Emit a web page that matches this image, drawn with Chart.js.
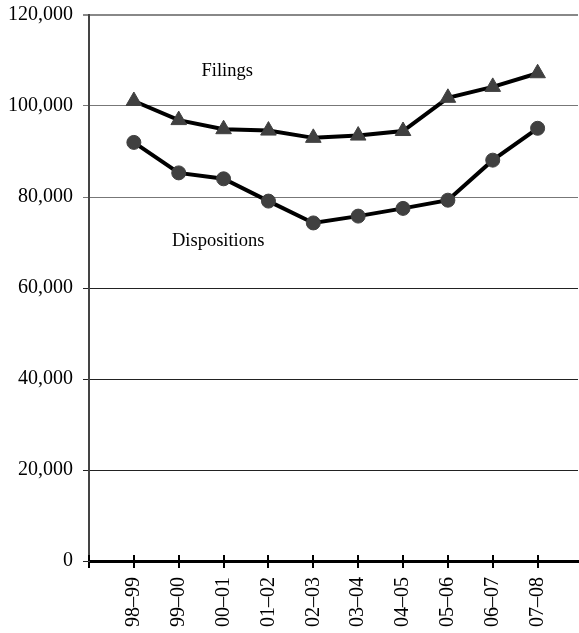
<!DOCTYPE html>
<html>
<head>
<meta charset="utf-8">
<script src="https://cdn.jsdelivr.net/npm/chart.js@4.4.1/dist/chart.umd.min.js"></script>
<style>
  html, body { margin: 0; padding: 0; background: #fff; }
  #wrap { width: 579px; height: 633px; position: relative; }
</style>
</head>
<body>
<div id="wrap"><canvas id="c" width="579" height="633"></canvas></div>
<script>
const categories = ['98\u201399','99\u201300','00\u201301','01\u201302','02\u201303','03\u201304','04\u201305','05\u201306','06\u201307','07\u201308'];
const filings = [101100, 96900, 94900, 94600, 93000, 93500, 94500, 101800, 104200, 107200];
const dispositions = [92000, 85300, 84000, 79100, 74300, 75800, 77500, 79300, 88100, 95100];
const yTicks = [0, 20000, 40000, 60000, 80000, 100000, 120000];
const seriesLabels = ['Filings', 'Dispositions'];

const FONT = "'Liberation Serif', 'Times New Roman', serif";

const toPts = arr => arr.map((v, i) => ({ x: i, y: v }));

const stretchRight = {
  id: 'stretchRight',
  afterLayout(chart) {
    const ca = chart.chartArea;
    const target = chart.width - 1;
    if (ca.right < target) {
      ca.right = target;
      ca.width = ca.right - ca.left;
      const xs = chart.scales.x;
      xs.right = target;
      xs.width = target - xs.left;
      xs.configure();
    }
  }
};

const innerTicks = {
  id: 'innerTicks',
  afterDatasetsDraw(chart) {
    const xs = chart.scales.x;
    const ctx = chart.ctx;
    const b = chart.chartArea.bottom;
    ctx.save();
    ctx.strokeStyle = '#000';
    ctx.lineWidth = 2;
    ctx.beginPath();
    for (let i = -1; i < categories.length; i++) {
      const px = Math.round(xs.getPixelForValue(i));
      ctx.moveTo(px, b - 6);
      ctx.lineTo(px, b);
    }
    ctx.stroke();
    ctx.restore();
  }
};

const seriesText = {
  id: 'seriesText',
  afterDatasetsDraw(chart) {
    const xs = chart.scales.x, ys = chart.scales.y;
    const ctx = chart.ctx;
    ctx.save();
    ctx.fillStyle = '#000';
    ctx.font = '18.5px ' + FONT;
    ctx.textAlign = 'center';
    ctx.textBaseline = 'middle';
    ctx.fillText(seriesLabels[0], xs.getPixelForValue(2.08), ys.getPixelForValue(107700));
    ctx.fillText(seriesLabels[1], xs.getPixelForValue(1.88), ys.getPixelForValue(70300));
    ctx.restore();
  }
};

new Chart(document.getElementById('c'), {
  type: 'line',
  data: {
    datasets: [
      {
        label: seriesLabels[0],
        data: toPts(filings),
        borderColor: '#000',
        borderWidth: 4,
        pointStyle: 'triangle',
        pointRadius: 9,
        pointBackgroundColor: '#404040',
        pointBorderColor: '#404040',
        pointBorderWidth: 1,
        tension: 0
      },
      {
        label: seriesLabels[1],
        data: toPts(dispositions),
        borderColor: '#000',
        borderWidth: 4,
        pointStyle: 'circle',
        pointRadius: 7,
        pointBackgroundColor: '#404040',
        pointBorderColor: '#404040',
        pointBorderWidth: 1,
        tension: 0
      }
    ]
  },
  options: {
    responsive: false,
    animation: false,
    events: [],
    layout: { padding: { top: 15, right: 1, left: 0, bottom: 0 } },
    plugins: { legend: { display: false }, tooltip: { enabled: false } },
    scales: {
      x: {
        type: 'linear',
        min: -1,
        max: 9.9,
        afterBuildTicks(scale) {
          const t = [{ value: -1 }];
          categories.forEach((c, i) => t.push({ value: i }));
          scale.ticks = t;
        },
        afterFit(scale) {
          scale.height = 72;
          scale.paddingLeft = 0;
          scale.paddingRight = 0;
        },
        grid: { drawOnChartArea: false, drawTicks: true, tickLength: 7, color: '#000', lineWidth: 2 },
        border: { display: true, color: '#000', width: 3 },
        ticks: {
          autoSkip: false,
          maxRotation: 90,
          minRotation: 90,
          padding: 9,
          color: '#000',
          font: { family: FONT, size: 20 },
          callback: v => (v >= 0 && Number.isInteger(v)) ? categories[v] : ''
        }
      },
      y: {
        min: 0,
        max: 120000,
        afterBuildTicks(scale) { scale.ticks = yTicks.map(v => ({ value: v })); },
        afterFit(scale) {
          scale.width = 89;
          scale.paddingTop = 0;
          scale.paddingBottom = 0;
        },
        grid: {
          tickLength: 6,
          color: ctx => {
            const v = ctx.tick ? ctx.tick.value : 0;
            if (v === 120000) return '#888';
            if (v >= 80000) return '#777';
            return '#222';
          },
          lineWidth: ctx => (ctx.tick && ctx.tick.value === 120000) ? 2 : 1
        },
        border: { display: true, color: '#444', width: 2 },
        ticks: {
          padding: 10,
          color: '#000',
          font: { family: FONT, size: 20 },
          callback: v => v.toLocaleString('en-US')
        }
      }
    }
  },
  plugins: [stretchRight, innerTicks, seriesText]
});
</script>
</body>
</html>
